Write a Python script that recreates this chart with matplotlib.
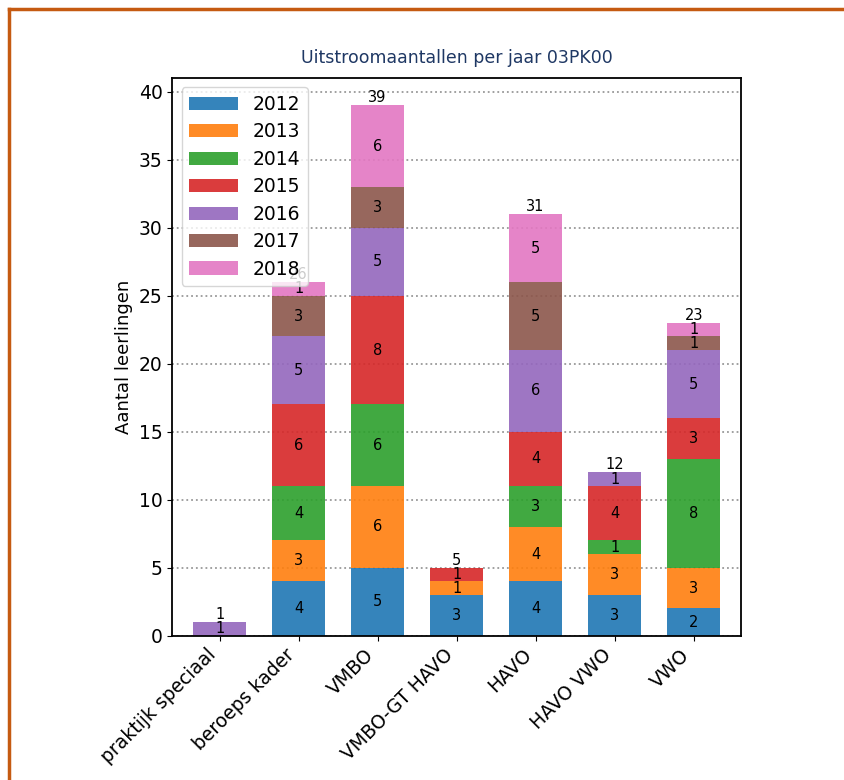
import numpy as np
import matplotlib
matplotlib.use("Agg")
import matplotlib.pyplot as plt
from matplotlib.lines import Line2D

categories = ["praktijk speciaal", "beroeps kader", "VMBO", "VMBO-GT HAVO",
              "HAVO", "HAVO VWO", "VWO"]
years = ["2012", "2013", "2014", "2015", "2016", "2017", "2018"]
y2012 = [0, 4, 5, 3, 4, 3, 2]
y2013 = [0, 3, 6, 1, 4, 3, 3]
y2014 = [0, 4, 6, 0, 3, 1, 8]
y2015 = [0, 6, 8, 1, 4, 4, 3]
y2016 = [1, 5, 5, 0, 6, 1, 5]
y2017 = [0, 3, 3, 0, 5, 0, 1]
y2018 = [0, 1, 6, 0, 5, 0, 1]
series = [y2012, y2013, y2014, y2015, y2016, y2017, y2018]
colors = ["#1f77b4", "#ff7f0e", "#2ca02c", "#d62728", "#9467bd", "#8c564b", "#e377c2"]

fig = plt.figure(figsize=(8.44, 7.8), dpi=100)
ax = fig.add_axes([0.204, 0.185, 0.674, 0.715])
x = np.arange(len(categories))
bottom = np.zeros(len(categories))
for yr, vals, col in zip(years, series, colors):
    vals = np.array(vals, dtype=float)
    ax.bar(x, vals, 0.68, bottom=bottom, color=col, alpha=0.9, label=yr)
    for xi, b, v in zip(x, bottom, vals):
        if v > 0:
            ax.text(xi, b + v / 2, f"{int(v)}", ha="center", va="center", fontsize=10.5)
    bottom += vals
for xi, t in zip(x, bottom):
    ax.text(xi, t, f"{int(t)}", ha="center", va="bottom", fontsize=10.5)

ax.set_xlim(-0.6, 6.6)
ax.set_ylim(0, 41)
ax.set_xticks(x)
ax.set_xticklabels(categories, rotation=45, ha="right", fontsize=13.5)
ax.tick_params(axis="y", labelsize=13.5)
ax.set_ylabel("Aantal leerlingen", fontsize=13)
ax.set_title("Uitstroomaantallen per jaar 03PK00", fontsize=12.5, color="#1f3864", pad=11)
ax.yaxis.grid(True, linestyle=":", color="#999999", linewidth=1.3)
ax.set_axisbelow(True)
for s in ax.spines.values():
    s.set_linewidth(1.3)
ax.legend(loc="upper left", fontsize=13.5, handlelength=2.6, labelspacing=0.45)

# orange frame along the top and left edge
fig.add_artist(Line2D([0.011, 1.0], [0.988, 0.988], transform=fig.transFigure,
                      color="#c55a11", linewidth=2.5))
fig.add_artist(Line2D([0.011, 0.011], [0.0, 0.988], transform=fig.transFigure,
                      color="#c55a11", linewidth=2.5))

fig.savefig("out.png", dpi=100)
